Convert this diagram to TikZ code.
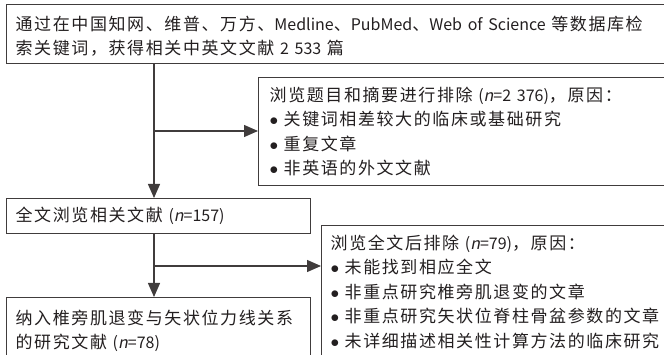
\documentclass[tikz,border=0pt]{standalone}
\usepackage{fontspec}
\setmainfont{Noto Sans CJK SC}[AutoFakeSlant=0.2]
\usetikzlibrary{arrows.meta}
\definecolor{linec}{RGB}{64,60,60}
\definecolor{textc}{RGB}{35,31,32}
\newcount\cjkcc
\cjkcc="4E00 \loop \XeTeXcharclass\cjkcc=10 \advance\cjkcc by 1 \ifnum\cjkcc<"A000 \repeat
\cjkcc="3000 \loop \XeTeXcharclass\cjkcc=10 \advance\cjkcc by 1 \ifnum\cjkcc<"3040 \repeat
\cjkcc="FF00 \loop \XeTeXcharclass\cjkcc=10 \advance\cjkcc by 1 \ifnum\cjkcc<"FFF0 \repeat
\XeTeXinterchartoks 10 10 = {\hskip 1.6pt\relax}
\XeTeXinterchartokenstate=1
\newcommand\la[1]{{\fontsize{16}{24.5}\selectfont #1}}
\newcommand\bul{\makebox[14pt][l]{$\bullet$}}
\begin{document}
\begin{tikzpicture}[x=1pt,y=-1pt,
  box/.style={draw=linec, line width=1.3pt, rectangle, anchor=north west, align=left,
    inner ysep=0pt, text=textc, font=\fontsize{17}{24.5}\selectfont},
  conn/.style={draw=linec, line width=1.3pt},
  arr/.style={conn, -{Triangle[length=14pt,width=12pt]}}]
\useasboundingbox (0,0) rectangle (664,355);
\clip (0,0) rectangle (664,355);
\node[box, inner xsep=9pt, minimum width=666pt, text width=648pt, minimum height=59pt] (top) at (6,4)
  {\rule{0pt}{19pt}通过在中国知网、维普、万方、\la{Medline}、\la{PubMed}、\la{Web of Science }等数据库检\\索关键词，获得相关中英文文献\la{ 2~533 }篇};
\node[box, inner xsep=11pt, minimum width=414pt, text width=392pt, minimum height=108pt] (box2) at (258,77)
  {浏览题目和摘要进行排除\la{ (\textit{n}=2~376)}，原因：\\
   \bul 关键词相差较大的临床或基础研究\\
   \bul 重复文章\\
   \bul 非英语的外文文献};
\node[box, inner xsep=9pt, minimum width=304pt, text width=286pt, minimum height=35pt] (box3) at (6,198)
  {全文浏览相关文献\la{ (\textit{n}=157)}};
\node[box, inner xsep=9pt, minimum width=351pt, text width=333pt, minimum height=132pt] (box4) at (321,225)
  {浏览全文后排除\la{ (\textit{n}=79)}，原因：\\
   \bul 未能找到相应全文\\
   \bul 非重点研究椎旁肌退变的文章\\
   \bul 非重点研究矢状位脊柱骨盆参数的文章\\
   \bul 未详细描述相关性计算方法的临床研究};
\node[box, inner xsep=9pt, minimum width=304pt, text width=286pt, minimum height=66pt] (box5) at (6,297)
  {纳入椎旁肌退变与矢状位力线关系\\的研究文献\la{ (\textit{n}=78)}};
\coordinate (b1) at (154,131);
\coordinate (b2) at (154,266);
\draw[arr] (top.south -| b1) -- (box3.north -| b1);
\draw[arr] (b1) -- (box2.west |- b1);
\draw[arr] (box3.south -| b2) -- (box5.north -| b2);
\draw[arr] (b2) -- (box4.west |- b2);
\end{tikzpicture}
\end{document}
